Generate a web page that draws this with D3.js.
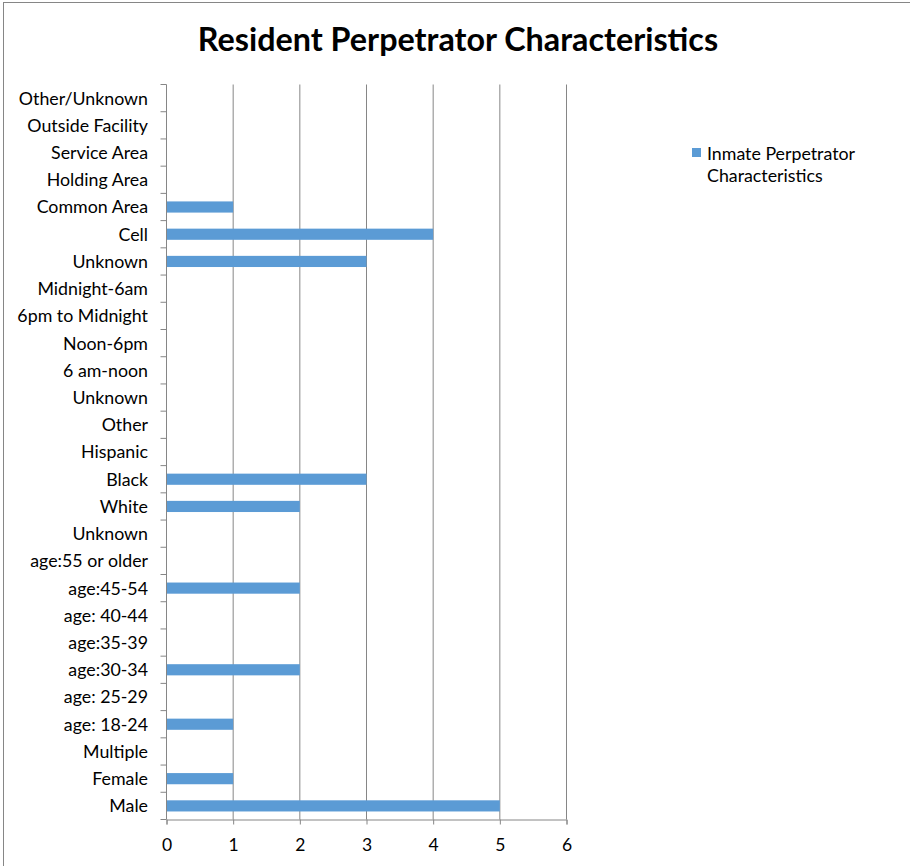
<!DOCTYPE html>
<html>
<head>
<meta charset="utf-8">
<script src="https://cdn.jsdelivr.net/npm/d3@7"></script>
<style>
  body { margin: 0; background: #fff; }
  svg { display: block; font-family: Lato, "Open Sans", sans-serif; }
</style>
</head>
<body>
<svg id="chart" width="910" height="866"></svg>
<script>
// categories from top to bottom
const categories = [
  'Other/Unknown', 'Outside Facility', 'Service Area', 'Holding Area', 'Common Area',
  'Cell', 'Unknown', 'Midnight-6am', '6pm to Midnight', 'Noon-6pm', '6 am-noon',
  'Unknown', 'Other', 'Hispanic', 'Black', 'White', 'Unknown', 'age:55 or older',
  'age:45-54', 'age: 40-44', 'age:35-39', 'age:30-34', 'age: 25-29', 'age: 18-24',
  'Multiple', 'Female', 'Male'
]
// series values, same order
const values = [
  0, 0, 0, 0, 1,
  4, 3, 0, 0, 0, 0,
  0, 0, 0, 3, 2, 0, 0,
  2, 0, 0, 2, 0, 1,
  0, 1, 5
]
const xTicks = [0, 1, 2, 3, 4, 5, 6]
const seriesName = ['Inmate Perpetrator', 'Characteristics']
const title = 'Resident Perpetrator Characteristics'

const svg = d3.select('#chart')
const grey = '#868686'
const barColor = '#5B9BD5'

// plot area
const plot = {left: 166.5, right: 566.5, top: 84.5, bottom: 819.5}

// outer frame (only left/top show in the reference)
svg.append('rect')
  .attr('x', 3.5).attr('y', 2.5)
  .attr('width', 920).attr('height', 880)
  .attr('fill', 'none').attr('stroke', grey)

svg.append('text')
  .attr('x', 458).attr('y', 51)
  .attr('text-anchor', 'middle')
  .attr('font-size', 32.3)
  .attr('font-weight', 'bold')
  .attr('fill', '#000')
  .text(title)

const x = d3.scaleLinear().domain([0, 6]).range([plot.left, plot.right])
const y = d3.scaleBand()
  .domain(d3.range(categories.length))
  .range([plot.top, plot.bottom])
  .paddingInner(0.59)
  .paddingOuter(0.295)
const yEdge = d3.scaleLinear().domain([0, categories.length]).range([plot.top, plot.bottom])

// vertical gridlines
svg.append('g')
  .selectAll('line')
  .data(xTicks.slice(1))
  .join('line')
  .attr('x1', d => x(d)).attr('x2', d => x(d))
  .attr('y1', plot.top).attr('y2', plot.bottom)
  .attr('stroke', grey)

// bars
svg.append('g')
  .selectAll('rect')
  .data(values)
  .join('rect')
  .attr('x', x(0))
  .attr('y', (d, i) => y(i))
  .attr('width', d => x(d) - x(0))
  .attr('height', y.bandwidth())
  .attr('fill', barColor)

// y axis: line, ticks at band boundaries, labels
const yAxis = svg.append('g')
yAxis.append('line')
  .attr('x1', plot.left).attr('x2', plot.left)
  .attr('y1', plot.top).attr('y2', plot.bottom)
  .attr('stroke', grey)
yAxis.selectAll('.tick')
  .data(d3.range(categories.length + 1))
  .join('line')
  .attr('x1', plot.left - 6).attr('x2', plot.left)
  .attr('y1', d => yEdge(d)).attr('y2', d => yEdge(d))
  .attr('stroke', grey)
yAxis.selectAll('text')
  .data(categories)
  .join('text')
  .attr('x', 148)
  .attr('y', (d, i) => y(i) + y.bandwidth() / 2)
  .attr('dy', '0.36em')
  .attr('text-anchor', 'end')
  .attr('font-size', 17.8)
  .attr('fill', '#000')
  .text(d => d)

// x axis
const xAxis = d3.axisBottom(x).tickValues(xTicks).tickFormat(d3.format('d')).tickSize(5).tickPadding(14)
const gx = svg.append('g')
  .attr('transform', `translate(0,${plot.bottom})`)
  .call(xAxis)
gx.select('.domain').attr('stroke', grey)
gx.selectAll('.tick line').attr('stroke', grey)
gx.selectAll('.tick text')
  .attr('font-size', 17.5)
  .attr('font-family', 'Lato, "Open Sans", sans-serif')
  .attr('fill', '#000')

// legend
const legend = svg.append('g').attr('transform', 'translate(692,148)')
legend.append('rect')
  .attr('width', 9).attr('height', 9)
  .attr('fill', barColor)
legend.selectAll('text')
  .data(seriesName)
  .join('text')
  .attr('x', 15)
  .attr('y', (d, i) => 12 + i * 22)
  .attr('font-size', 17.8)
  .attr('fill', '#000')
  .text(d => d)
</script>
</body>
</html>
